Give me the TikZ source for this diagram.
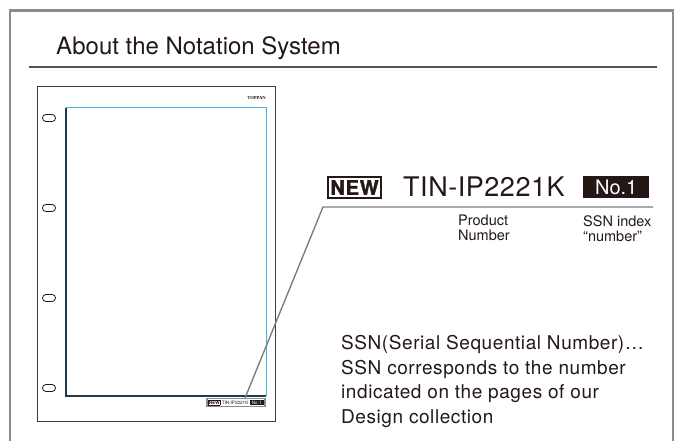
\documentclass[tikz,border=0pt]{standalone}
\usepackage{fontspec}
\setmainfont{TeX Gyre Heros}
\newfontfamily\logofont{Liberation Serif}
\usetikzlibrary{positioning}
\definecolor{inkblack}{HTML}{231815}
\definecolor{framegray}{HTML}{8C8C8C}
\definecolor{rulegray}{HTML}{555555}
\definecolor{guidecyan}{HTML}{3FB4E5}
\definecolor{guidenavy}{HTML}{1F3A4D}
\tikzset{
    px/.style={x=1pt, y=-1pt},
    newtag/.style={draw=inkblack, line width=1.8pt, inner xsep=2.5pt, inner ysep=0pt, minimum height=21pt,
        font=\fontsize{20}{20}\selectfont\bfseries\addfontfeature{FakeBold=2,LetterSpace=4}, text=inkblack},
    ssntag/.style={fill=inkblack, text=white, inner sep=0pt, minimum width=66pt, minimum height=22pt,
        font=\fontsize{20}{20}\selectfont},
    caption/.style={anchor=north west, align=left, inner sep=0pt, text=inkblack,
        font=\fontsize{14.5}{15}\selectfont},
    leader/.style={draw=framegray!90!black, line width=1.4pt},
}

\begin{document}
\begin{tikzpicture}[px]
\useasboundingbox (0,0) rectangle (681,441);
% outer frame, open at the bottom
\draw[framegray, line width=2.2pt] (10,441) -- (10,10.5) -- (673,10.5) -- (673,441);
\node[anchor=base west, inner sep=0pt, text=inkblack, font=\fontsize{24}{24}\selectfont] (title) at (56,55) {About the Notation System};
\draw[rulegray, line width=1.2pt] (29,67) -- (657,67);

% the page
\draw[inkblack!85, line width=1pt] (37,87) rectangle (275,421);
\draw[guidecyan, line width=1pt] (66,396) -- (66,108) -- (266,108) -- (266,396);
\draw[guidenavy, line width=1.2pt] (266,396) -- (66,396) -- (66,108);
\node[anchor=east, inner sep=0pt, text=inkblack, font=\fontsize{4.6}{5}\logofont\bfseries] (maker) at (266,98) {TOPPAN};
\draw[inkblack, line width=0.8pt, rounded corners=3.4pt] (42.5,114.5) rectangle (55.5,121.5);
\draw[inkblack, line width=0.8pt, rounded corners=3.4pt] (42.5,204.5) rectangle (55.5,211.5);
\draw[inkblack, line width=0.8pt, rounded corners=3.4pt] (42.5,294.5) rectangle (55.5,301.5);
\draw[inkblack, line width=0.8pt, rounded corners=3.4pt] (42.5,384.5) rectangle (55.5,391.5);
\node[draw=framegray, line width=1.4pt, fill=white, inner sep=1.3pt, text=inkblack,
      font=\fontsize{4.6}{5}\selectfont] (minilabel) at (236,402.5)
    {{\setlength\fboxsep{0.4pt}\setlength\fboxrule{0.4pt}\fbox{\bfseries NEW}}~TIN-IP2221K~{\setlength\fboxsep{0.6pt}\colorbox{inkblack}{\makebox[13pt]{\color{white}No.1}}}};

% the enlarged notation
\coordinate (elbow) at (323,207);
\coordinate (leadend) at (653,207);
\draw[leader] (minilabel.north) ++(9,0) coordinate (foot) (foot) -- (elbow) -- (leadend);
\node[newtag, anchor=west] (newmark) at (327,187.5) {NEW};
\node[anchor=base west, inner sep=0pt, text=inkblack, font=\fontsize{27}{27}\selectfont\addfontfeature{LetterSpace=2}] (prodcode) at (403,197) {TIN-IP2221K};
\node[ssntag, anchor=west] (ssnmark) at (583,187.5) {No.1};
\node[caption] (prodcap) at (458,215) {Product\\Number};
\node[caption] (ssncap) at (583,215) {SSN index\\“number”};

\node[anchor=north west, align=left, inner sep=0pt, text=inkblack,
      font=\fontsize{19}{24.7}\selectfont\addfontfeature{LetterSpace=3}] (ssnnote) at (341,335)
    {SSN(Serial Sequential Number)…\\SSN corresponds to the number\\indicated on the pages of our\\Design collection};
\end{tikzpicture}
\end{document}
